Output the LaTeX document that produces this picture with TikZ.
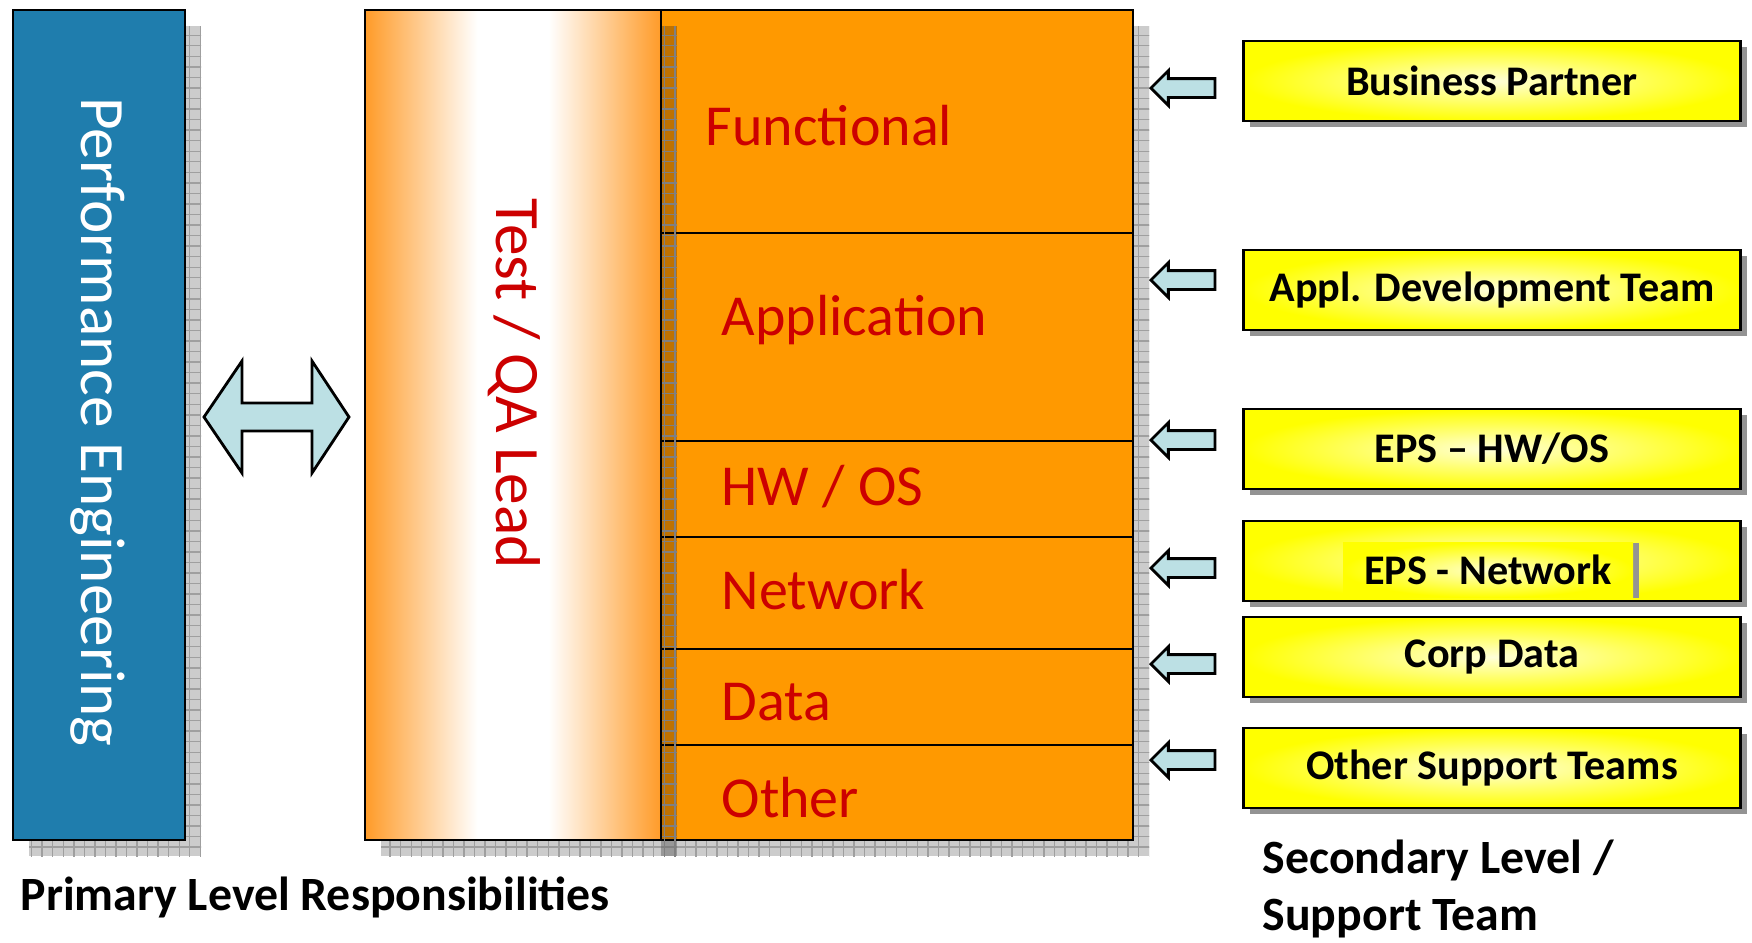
\documentclass[tikz,border=0pt]{standalone}
\usepackage{fontspec}
\setmainfont{Carlito}
\usetikzlibrary{arrows.meta, calc, patterns, shapes.arrows, shadows, positioning}
\definecolor{peblue}{RGB}{31,125,173}
\definecolor{qaorange}{RGB}{255,153,0}
\definecolor{qaedge}{RGB}{255,155,40}
\definecolor{qared}{RGB}{204,0,0}
\definecolor{arrowblue}{RGB}{188,224,228}
% orange -- white band -- orange, across the lead block
\pgfdeclarehorizontalshading{qashade}{100bp}{color(0bp)=(qaedge);
    color(25bp)=(qaedge); color(44bp)=(white); color(56bp)=(white);
    color(75bp)=(qaedge); color(100bp)=(qaedge)}

\begin{document}
\begin{tikzpicture}[x=0.1mm, y=-0.1mm,% styles used in image code
boxshadow/.style = {fill=gray!40,
                    postaction={pattern=grid, pattern color=gray!75}},
   bigbox/.style = {draw, thick},
   vlabel/.style = {rotate=-90, inner sep=0pt,
                    font=\fontsize{18}{20}\selectfont},
 rowlabel/.style = {anchor=west, inner sep=0pt, text=qared,
                    font=\fontsize{16.5}{19}\selectfont},
leftarrow/.style = {single arrow, shape border rotate=180, draw, thick,
                    fill=arrowblue, anchor=tip, inner sep=0.8mm,
                    minimum height=6.4mm, single arrow head extend=0.8mm},
     ybox/.style = {draw, thick, inner color=yellow!15, outer color=yellow,
                    minimum width=49.7mm, minimum height=8mm, inner sep=0pt,
                    font=\fontsize{12}{14}\selectfont\bfseries,
                    drop shadow={shadow xshift=0.6mm, shadow yshift=-0.6mm,
                                 fill=gray!85, opacity=1}},
    inbox/.style = {inner color=yellow!20, outer color=yellow,
                    minimum width=29mm, minimum height=5.5mm, inner sep=0pt,
                    font=\fontsize{12}{14}\selectfont\bfseries,
                    drop shadow={shadow xshift=0.6mm, shadow yshift=0mm,
                                 fill=gray!85, opacity=1}},
   footer/.style = {inner sep=0pt, anchor=west,
                    font=\fontsize{13.6}{16.2}\selectfont\bfseries}
                   ]
    \useasboundingbox (0,0) rectangle (1752,942);

    % shadows of the three big blocks
    \path[boxshadow] (29,26) rectangle (201,856);
    \path[boxshadow] (381,26) rectangle (1149,856);

    % performance engineering block
    \draw[bigbox, fill=peblue] (13,10) rectangle (185,840);
    \node (pe) [vlabel, text=white] at (98,422) {Performance Engineering};

    % layers of responsibility
    \draw[bigbox, fill=qaorange] (661,10) rectangle (1133,840);
    \draw[semithick] (661,233) -- (1133,233)
                     (661,441) -- (1133,441)
                     (661,537) -- (1133,537)
                     (661,649) -- (1133,649)
                     (661,745) -- (1133,745);
    \node (fn)  [rowlabel] at (705,126) {Functional};
    \node (app) [rowlabel] at (721,320) {Application};
    \node (hw)  [rowlabel] at (721,487) {HW / OS};
    \node (net) [rowlabel] at (721,590) {Network};
    \node (dat) [rowlabel] at (721,702) {Data};
    \node (oth) [rowlabel] at (721,798) {Other};

    % test / QA lead block
    \path[fill=black, fill opacity=0.25,
          postaction={pattern=grid, pattern color=gray}] (661,26) rectangle (677,856);
    \draw[bigbox, shading=qashade] (365,10) rectangle (661,840);
    \node (qa) [vlabel, text=qared] at (514,384) {Test / QA Lead};

    % two way link
    \draw[thick, fill=arrowblue] (204,417) -- (242,361) -- (242,403) -- (312,403)
        -- (312,361) -- (349,417) -- (312,473) -- (312,431) -- (242,431)
        -- (242,473) -- cycle;

    % support teams
    \node (bp)   [ybox] at (1492,81)  {Business Partner};
    \node (adt)  [ybox] at (1492,290) {Appl. Development Team};
    \node (eps)  [ybox] at (1492,449) {EPS – HW/OS};
    \node (epsn) [ybox] at (1492,561) {};
    \node (epsi) [inbox] at (1488,570) {EPS - Network};
    \node (cd)   [ybox] at (1492,657) {Corp Data};
    \node (ost)  [ybox] at (1492,768) {Other Support Teams};

    \node (a1) [leftarrow] at (1149,88)  {};
    \node (a2) [leftarrow] at (1149,280) {};
    \node (a3) [leftarrow] at (1149,440) {};
    \node (a4) [leftarrow] at (1149,568) {};
    \node (a5) [leftarrow] at (1149,664) {};
    \node (a6) [leftarrow] at (1149,760) {};

    % captions
    \node (prim) [footer] at (20,897) {Primary Level Responsibilities};
    \node (sec)  [footer, align=left] at (1262,889) {Secondary Level /\\ Support Team};
\end{tikzpicture}
\end{document}
